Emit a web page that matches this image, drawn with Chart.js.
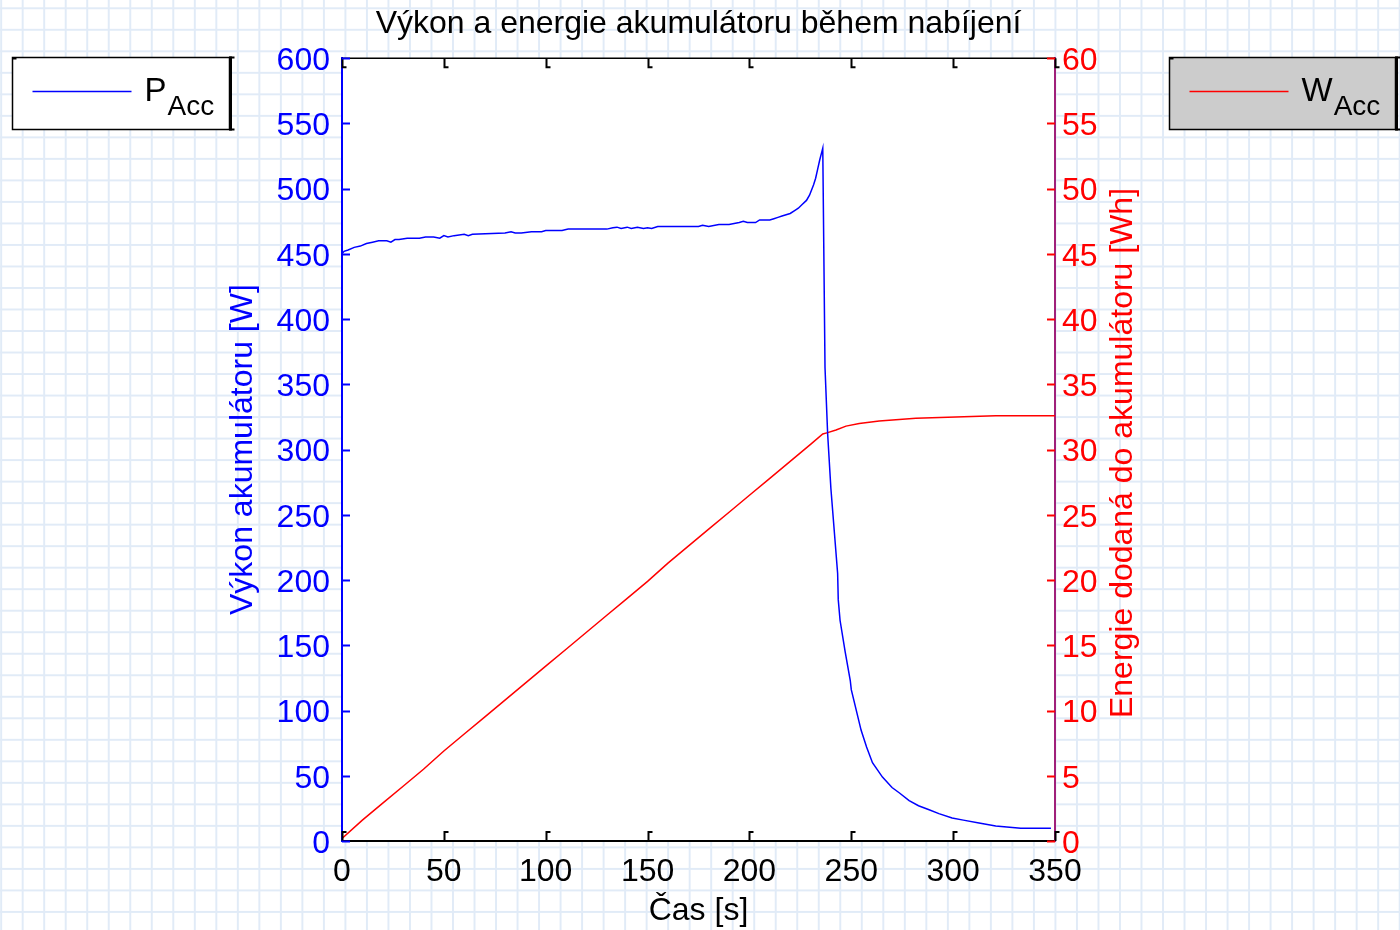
<!DOCTYPE html>
<html>
<head>
<meta charset="utf-8">
<script src="https://cdn.jsdelivr.net/npm/chart.js@4.4.0/dist/chart.umd.min.js"></script>
<style>
html, body { margin:0; padding:0; }
body {
  width:1400px; height:930px; overflow:hidden;
  background-color:#fff;
  background-image:
    linear-gradient(to right, #e1ebf7 2px, transparent 2px),
    linear-gradient(to bottom, #e1ebf7 2px, transparent 2px);
  background-size: 21.52px 21.52px;
  background-position: 0.2px 7.3px;
}
#wrap { position:relative; width:1400px; height:930px; }
</style>
</head>
<body>
<div id="wrap"><canvas id="myChart" width="1400" height="930"></canvas></div>
<script>
// cas [s] a vykon [W]
const casP = [0, 1, 3, 6, 9, 12, 15, 18, 22, 24, 26, 28, 32, 38, 41, 45, 48, 50, 52, 55, 60, 62, 64, 80, 83, 85, 88, 93, 98, 100, 108, 111, 130, 133, 135, 137, 140, 142, 145, 148, 150, 152, 155, 175, 177, 180, 185, 190, 195, 197, 199, 203, 205, 210, 212, 214, 216, 218, 220, 222, 224, 226, 228, 229.5, 230.5, 231.5, 232.5, 233.5, 234.5, 235.5, 236, 237.1, 238.4, 240, 243.3, 243.6, 244.5, 247, 249.5, 250, 254.8, 257.5, 260.4, 265.3, 270, 273.5, 278.4, 283, 288.2, 293, 299.5, 305, 312.7, 320.9, 333.2, 348]
const vykon = [450, 452, 453, 455, 456, 458, 459, 460, 460, 459, 461, 461, 462, 462, 463, 463, 462, 464, 463, 464, 465, 464, 465, 466, 467, 466, 466, 467, 467, 468, 468, 469, 469, 470, 470.5, 469.5, 470.5, 469.5, 470.5, 469.5, 470, 469.5, 471, 471, 472, 471, 472.5, 472.5, 474, 475, 474, 474, 476, 476, 477, 478, 479, 480, 481, 483, 485, 488, 491, 495, 499, 503, 508, 515, 522, 528, 531, 363, 312, 270, 205, 185, 169, 145, 123, 116, 85, 72, 60, 49, 41, 37, 31, 27, 24, 21, 17.6, 16, 13.8, 11.5, 9.7, 9.7]

// cas [s] a energie [Wh]
const casW = [0, 10, 20, 30, 40, 50, 60, 70, 80, 90, 100, 110, 120, 130, 140, 150, 160, 170, 180, 190, 200, 210, 220, 230, 236, 238.4, 242.5, 247.4, 253.9, 263.7, 281.7, 320.9, 350]
const energie = [0.2, 1.6, 2.9, 4.2, 5.5, 6.9, 8.2, 9.5, 10.8, 12.1, 13.4, 14.7, 16.0, 17.3, 18.6, 19.9, 21.3, 22.6, 23.9, 25.2, 26.5, 27.8, 29.1, 30.4, 31.2, 31.3, 31.5, 31.8, 32.0, 32.2, 32.4, 32.6, 32.6]

const xTicks = [0, 50, 100, 150, 200, 250, 300, 350]
const yTicks = [0, 50, 100, 150, 200, 250, 300, 350, 400, 450, 500, 550, 600]
const y2Ticks = [0, 5, 10, 15, 20, 25, 30, 35, 40, 45, 50, 55, 60]

const FONT = "'Liberation Sans', Arial, sans-serif"
Chart.defaults.font.family = FONT

function setTicks(list) {
  return function (scale) { scale.ticks = list.map(v => ({ value: v })) }
}

// bile pozadi grafu
const plotBg = {
  id: "plotBg",
  beforeDraw(chart) {
    const a = chart.chartArea, ctx = chart.ctx
    ctx.save()
    ctx.fillStyle = "#ffffff"
    ctx.fillRect(a.left, a.top, a.right - a.left, a.bottom - a.top)
    ctx.restore()
  }
}

// ticky dovnitr + horni okraj
const innerTicks = {
  id: "innerTicks",
  afterDraw(chart) {
    const a = chart.chartArea, ctx = chart.ctx
    const sx = chart.scales.x, sy = chart.scales.y, sy2 = chart.scales.y1
    ctx.save()
    ctx.lineWidth = 1.5
    ctx.strokeStyle = "#000"
    ctx.beginPath(); ctx.moveTo(a.left, a.top); ctx.lineTo(a.right, a.top); ctx.stroke()
    ctx.lineWidth = 2
    xTicks.forEach(v => {
      const px = Math.round(sx.getPixelForValue(v)) + 0.5
      ctx.beginPath()
      ctx.moveTo(px, a.bottom); ctx.lineTo(px, a.bottom - 9); ctx.lineTo(px + 4, a.bottom - 9)
      ctx.moveTo(px, a.top); ctx.lineTo(px, a.top + 9); ctx.lineTo(px + 4, a.top + 9)
      ctx.stroke()
    })
    ctx.strokeStyle = "#0000ff"
    yTicks.forEach(v => {
      const py = Math.round(sy.getPixelForValue(v)) + 0.5
      ctx.beginPath(); ctx.moveTo(a.left, py); ctx.lineTo(a.left + 8, py); ctx.stroke()
    })
    ctx.strokeStyle = "#ff0000"
    y2Ticks.forEach(v => {
      const py = Math.round(sy2.getPixelForValue(v)) + 0.5
      ctx.beginPath(); ctx.moveTo(a.right, py); ctx.lineTo(a.right - 8, py); ctx.stroke()
    })
    ctx.restore()
  }
}

// popisek prave osy (otoceny jako levy)
const rightTitle = {
  id: "rightTitle",
  afterDraw(chart) {
    const ctx = chart.ctx
    ctx.save()
    ctx.translate(1123, 453)
    ctx.rotate(-Math.PI / 2)
    ctx.fillStyle = "#ff0000"
    ctx.font = "32px " + FONT
    ctx.textAlign = "center"
    ctx.textBaseline = "middle"
    ctx.fillText("Energie dodaná do akumulátoru [Wh]", 0, 0)
    ctx.restore()
  }
}

// legendy jako v MATLABu
function drawLegend(ctx, ds, x, w, fill) {
  const y = 57.5, h = 72
  ctx.fillStyle = fill
  ctx.fillRect(x, y, w, h)
  ctx.strokeStyle = "#000"
  ctx.lineWidth = 1.5
  ctx.strokeRect(x, y, w, h)
  ctx.lineWidth = 3
  ctx.beginPath(); ctx.moveTo(x + w + 1, y - 1); ctx.lineTo(x + w + 1, y + h + 1); ctx.stroke()
  ctx.lineWidth = 2
  ctx.beginPath()
  ctx.moveTo(x + w, y); ctx.lineTo(x + w + 5, y)
  ctx.moveTo(x + w, y + h); ctx.lineTo(x + w + 5, y + h)
  ctx.moveTo(x, y + 1); ctx.lineTo(x + 4, y + 1)
  ctx.stroke()
  ctx.strokeStyle = ds.borderColor
  ctx.lineWidth = 1.6
  ctx.beginPath(); ctx.moveTo(x + 20, 91.5); ctx.lineTo(x + 119, 91.5); ctx.stroke()
  const parts = ds.label.split("_")
  ctx.fillStyle = "#000"
  ctx.textBaseline = "alphabetic"
  ctx.font = "33px " + FONT
  ctx.fillText(parts[0], x + 132, 101)
  const mw = ctx.measureText(parts[0]).width
  ctx.font = "28px " + FONT
  ctx.fillText(parts[1], x + 132 + mw + 1, 115)
}

const legendBoxes = {
  id: "legendBoxes",
  afterDraw(chart) {
    const ctx = chart.ctx
    ctx.save()
    drawLegend(ctx, chart.data.datasets[0], 12.5, 217, "#ffffff")
    drawLegend(ctx, chart.data.datasets[1], 1169.5, 226, "#cccccc")
    ctx.restore()
  }
}

const graf = new Chart("myChart", {
  type: "line",
  data: {
    datasets: [{
      label: "P_Acc",
      data: casP.map((t, i) => ({ x: t, y: vykon[i] })),
      borderColor: "#0000ff",
      borderWidth: 1.5,
      pointRadius: 0,
      tension: 0,
      yAxisID: "y"
    }, {
      label: "W_Acc",
      data: casW.map((t, i) => ({ x: t, y: energie[i] })),
      borderColor: "#ff0000",
      borderWidth: 1.5,
      pointRadius: 0,
      tension: 0,
      yAxisID: "y1"
    }]
  },
  options: {
    responsive: false,
    animation: false,
    layout: { padding: { left: 220, right: 245, top: 0, bottom: 0 } },
    plugins: {
      legend: { display: false },
      tooltip: { enabled: false },
      title: {
        display: true,
        fullSize: false,
        text: "Výkon a energie akumulátoru během nabíjení",
        color: "#000",
        font: { size: 32, weight: "normal" },
        padding: { top: 4.8, bottom: 15 }
      }
    },
    scales: {
      x: {
        type: "linear",
        position: "bottom",
        min: 0, max: 350,
        afterBuildTicks: setTicks(xTicks),
        afterFit(s) { s.height = 89 },
        ticks: { color: "#000", font: { size: 32 }, padding: 12, maxRotation: 0, autoSkip: false },
        grid: { drawOnChartArea: false, drawTicks: false },
        border: { color: "#000", width: 2 },
        title: { display: true, text: "Čas [s]", color: "#000", font: { size: 32 }, padding: { top: 0, bottom: 0 } }
      },
      y: {
        type: "linear",
        position: "left",
        min: 0, max: 600,
        afterBuildTicks: setTicks(yTicks),
        afterFit(s) { s.width = 122 },
        ticks: { color: "#0000ff", font: { size: 32 }, padding: 12, labelOffset: 3, autoSkip: false },
        grid: { drawOnChartArea: false, drawTicks: false },
        border: { color: "#0000ff", width: 2 },
        title: { display: true, text: "Výkon akumulátoru [W]", color: "#0000ff", font: { size: 32 }, padding: { top: 4, bottom: 4 } }
      },
      y1: {
        type: "linear",
        position: "right",
        min: 0, max: 60,
        afterBuildTicks: setTicks(y2Ticks),
        afterFit(s) { s.width = 100 },
        ticks: { color: "#ff0000", font: { size: 32 }, padding: 7, labelOffset: 3, autoSkip: false },
        grid: { drawOnChartArea: false, drawTicks: false },
        border: { color: "#a0207a", width: 2 }
      }
    }
  },
  plugins: [plotBg, innerTicks, rightTitle, legendBoxes]
})
</script>
</body>
</html>
